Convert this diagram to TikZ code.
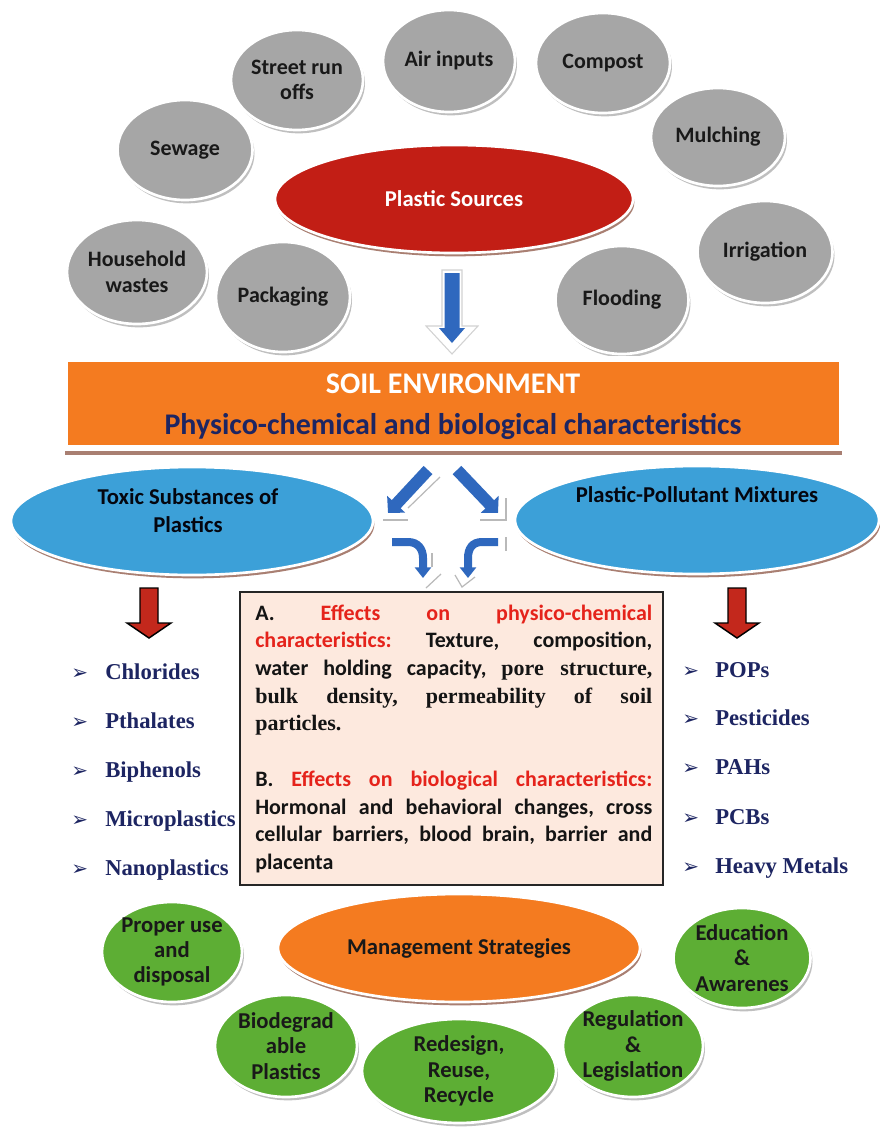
\documentclass[tikz,border=0pt]{standalone}
\usepackage{fontspec}
\setmainfont{Liberation Serif}
\newfontfamily\calib{Carlito}
\newfontfamily\dingfont{DejaVu Sans}
\usetikzlibrary{shapes.geometric,arrows.meta,shadows}

\definecolor{bubblegray}{HTML}{A6A6A6}
\definecolor{srcred}{HTML}{C21E15}
\definecolor{soilorange}{HTML}{F47B20}
\definecolor{skyblue}{HTML}{3CA0D8}
\definecolor{leafgreen}{HTML}{5DAE34}
\definecolor{navy}{HTML}{1D2562}
\definecolor{arrowblue}{HTML}{2F68BE}
\definecolor{peach}{HTML}{FDE9DE}
\definecolor{effred}{HTML}{E5231B}
\definecolor{darkred}{HTML}{C3281C}
\definecolor{rimbrown}{HTML}{A97F72}

\newcommand\pxl{0.75pt}
\newcommand\arrowbullet{{\dingfont\fontsize{15}{15}\selectfont ➢}}
% one justified line of the effects text (font spaces, so they can stretch)
\newcommand\fullline[1]{{\frenchspacing\spaceskip=0pt\xspaceskip=0pt\makebox[297.75pt][s]{#1}}}

\begin{document}
\begin{tikzpicture}[x=0.75pt,y=-0.75pt,
  dims/.style 2 args={minimum width=#1*\pxl, minimum height=#2*\pxl},
  bubble/.style={ellipse, inner sep=-8pt, outer sep=0pt, draw=white, line width=2pt,
    align=center, text=black!90, font=\calib\bfseries\fontsize{16.5}{19}\selectfont,
    drop shadow={shadow xshift=1.5pt, shadow yshift=-2.5pt, fill=black!25, opacity=1}},
  graybubble/.style={bubble, fill=bubblegray},
  greenbubble/.style={bubble, fill=leafgreen, font=\calib\bfseries\fontsize{17}{19}\selectfont},
  bigoval/.style={ellipse, inner sep=-8pt, outer sep=0pt, draw=white, line width=2pt,
    align=center, font=\calib\bfseries\fontsize{17}{21}\selectfont,
    drop shadow={shadow xshift=1pt, shadow yshift=-2.5pt, fill=rimbrown, opacity=1}},
  banner/.style={rectangle, inner sep=0pt, fill=soilorange, draw=white, line width=4.5pt,
    drop shadow={shadow xshift=0pt, shadow yshift=-5.25pt, fill=rimbrown, opacity=1}},
  bannertext/.style={font=\calib\bfseries\fontsize{22.5}{26}\selectfont, inner sep=0pt},
  bluearrow/.style={draw=arrowblue, line width=9pt, -{Triangle[width=18pt,length=9pt]}},
  bendarrow/.style={draw=arrowblue, line width=6pt, -{Triangle[width=12pt,length=8pt]}},
  glint/.style={draw=gray!55, line width=0.9pt},
  redarrow/.style={fill=darkred, draw=black, line width=1.1pt, line join=miter},
  listitem/.style={anchor=base west, inner sep=0pt, text=navy,
    font=\rmfamily\bfseries\fontsize{17}{20}\selectfont},
  effectbox/.style={rectangle, fill=peach, draw=black!85, line width=1.5pt, inner sep=0pt}
]
\useasboundingbox (0,0) rectangle (879,1129);
\fill[white] (0,0) rectangle (879,1129);

% ---------- plastic sources ----------
\node[graybubble, dims={132}{100}] (street)     at (297,80)  {Street run\\offs};
\node[graybubble, dims={132}{102}] (air)        at (449,61)  {Air inputs};
\node[graybubble, dims={134}{100}] (compost)    at (603,63)  {Compost};
\node[graybubble, dims={134}{98}]  (mulching)   at (718,137) {Mulching};
\node[graybubble, dims={135}{102}] (irrigation) at (765,252) {Irrigation};
\node[graybubble, dims={135}{100}] (sewage)     at (185,150) {Sewage};
\node[graybubble, dims={140}{104}] (household)  at (137,272) {Household\\wastes};
\node[graybubble, dims={134}{110}] (packaging)  at (283,297) {Packaging};
\node[graybubble, dims={133}{108}] (flooding)   at (622,300) {Flooding};
\node[bigoval, fill=srcred, text=white, dims={358}{108}] (sources) at (454,199) {Plastic Sources};

% arrow from the sources down to the soil banner
\coordinate (srcOut) at (452,270);
\coordinate (srcIn)  at (452,273);
\path[draw=gray!35, fill=white, line width=0.8pt]
  (srcOut) ++(-10,0) -- ++(20,0) -- ++(0,56) -- ++(16,0) -- ++(-26,28) -- ++(-26,-28) -- ++(16,0) -- cycle;
\path[fill=arrowblue]
  (srcIn) ++(-7.5,0) -- ++(15,0) -- ++(0,55) -- ++(5.5,0) -- ++(-13,15) -- ++(-13,-15) -- ++(5.5,0) -- cycle;

% ---------- soil environment banner ----------
\node[banner, dims={777}{89}] (soil) at (453.5,403.5) {};
\node[bannertext, text=white] (soilTitle) at (453,384) {SOIL ENVIRONMENT};
\node[bannertext, text=navy, anchor=base] (soilSub) at (453,434) {Physico-chemical and biological characteristics};

% ---------- toxic substances / mixtures ----------
\node[bigoval, fill=skyblue, dims={362}{108}] (toxic) at (192,521) {};
\node[font=\calib\bfseries\fontsize{17}{21}\selectfont, text=black!85!navy, align=center, inner sep=0pt]
  (toxicLabel) at (188,511) {Toxic Substances of\\Plastics};
\node[bigoval, fill=skyblue, dims={364}{108}] (mixtures) at (697,520) {};
\node[font=\calib\bfseries\fontsize{17}{21}\selectfont, text=black!85!navy, inner sep=0pt]
  (mixturesLabel) at (697,495) {Plastic-Pollutant Mixtures};

% arrows from the banner towards both branches and the effects box
\coordinate (dlA) at (428,470); \coordinate (dlB) at (388,513);
\coordinate (drA) at (457,470); \coordinate (drB) at (498,513);
\coordinate (clA) at (392,542); \coordinate (clB) at (423,578);
\coordinate (crA) at (498,542); \coordinate (crB) at (468,578);
\draw[glint] (440,477) -- (408,508);
\draw[glint] (383,520) -- (408,520);
\draw[glint] (480,520) -- (506,520) -- (506,498);
\draw[glint] (432,553) -- (432,567);
\draw[glint] (426,588) -- (441,574);
\draw[glint] (455,575) -- (462,587) -- (475,577);
\draw[glint] (506,537) -- (506,551);
\draw[bluearrow] (dlA) -- (dlB);
\draw[bluearrow] (drA) -- (drB);
\draw[bendarrow] (clA) -- (408,542) .. controls (418,542) and (423,549) .. (423,558) -- (clB);
\draw[bendarrow] (crA) -- (482,542) .. controls (472,542) and (468,549) .. (468,558) -- (crB);

% red arrows to the two lists
\coordinate (toxArrow) at (149,588);
\coordinate (mixArrow) at (737,588);
\path[redarrow] (toxArrow) ++(-9,0) -- ++(18,0) -- ++(0,35) -- ++(13,0) -- ++(-22,15) -- ++(-22,-15) -- ++(13,0) -- cycle;
\path[redarrow] (mixArrow) ++(-9,0) -- ++(18,0) -- ++(0,35) -- ++(13,0) -- ++(-22,15) -- ++(-22,-15) -- ++(13,0) -- cycle;

% ---------- lists ----------
\node[listitem] (chlorides)     at (71,679) {\makebox[25.5pt][l]{\arrowbullet}Chlorides};
\node[listitem] (pthalates)     at (71,728) {\makebox[25.5pt][l]{\arrowbullet}Pthalates};
\node[listitem] (biphenols)     at (71,777) {\makebox[25.5pt][l]{\arrowbullet}Biphenols};
\node[listitem] (microplastics) at (71,826) {\makebox[25.5pt][l]{\arrowbullet}Microplastics};
\node[listitem] (nanoplastics)  at (71,875) {\makebox[25.5pt][l]{\arrowbullet}Nanoplastics};

\node[listitem] (pops)       at (682,677) {\makebox[24.75pt][l]{\arrowbullet}POPs};
\node[listitem] (pesticides) at (682,725) {\makebox[24.75pt][l]{\arrowbullet}Pesticides};
\node[listitem] (pahs)       at (682,774) {\makebox[24.75pt][l]{\arrowbullet}PAHs};
\node[listitem] (pcbs)       at (682,824) {\makebox[24.75pt][l]{\arrowbullet}PCBs};
\node[listitem] (metals)     at (682,873) {\makebox[24.75pt][l]{\arrowbullet}Heavy Metals};

% ---------- effects box ----------
\node[effectbox, dims={423}{293}] (effects) at (451.5,738.5) {};
\node[anchor=base west, inner sep=0pt, text width=297.75pt, align=left, text=black!92,
      font=\calib\bfseries\fontsize{16.5}{20.8}\selectfont] (effectsText) at (255,620) {%
\fullline{A. \textcolor{effred}{Effects on physico-chemical}}\\
\fullline{\textcolor{effred}{characteristics:} Texture, composition,}\\
\fullline{water holding capacity, {\rmfamily\bfseries pore structure,}}\\
\fullline{\rmfamily\bfseries bulk density, permeability of soil}\\
{\rmfamily\bfseries particles.}\\[20.8pt]
\fullline{B. \textcolor{effred}{Effects on biological characteristics:}}\\
\fullline{Hormonal and behavioral changes, cross}\\
\fullline{cellular barriers, blood brain, barrier and}\\
placenta};

% ---------- management strategies ----------
\node[bigoval, fill=soilorange, text=black!90, dims={362}{108}] (management) at (459,948) {Management Strategies};
\node[greenbubble, dims={140}{100}] (proper)     at (172,952)  {Proper use\\and\\disposal};
\node[greenbubble, dims={137}{100}] (education)  at (742,958)  {Education\\\&\\Awarenes};
\node[greenbubble, dims={142}{102}] (biodeg)     at (286,1046) {Biodegrad\\able\\Plastics};
\node[greenbubble, dims={140}{102}] (regulation) at (633,1046) {Regulation\\\&\\Legislation};
\node[greenbubble, dims={194}{104}] (redesign)   at (459,1071) {Redesign,\\Reuse,\\Recycle};
\end{tikzpicture}
\end{document}
